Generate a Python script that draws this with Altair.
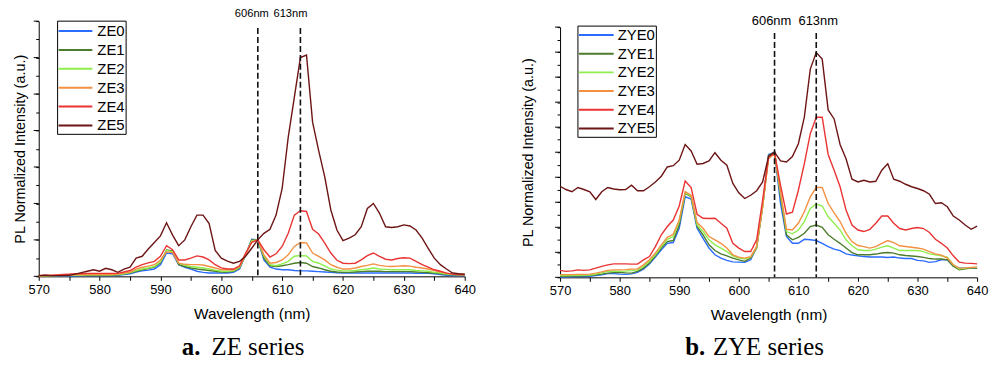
import altair as alt
import pandas as pd

# Wavelength grid (nm), one sample per nanometre
WAVELENGTH = list(range(570, 641))

ZE_NAMES = ["ZE0", "ZE1", "ZE2", "ZE3", "ZE4", "ZE5"]
ZYE_NAMES = ["ZYE0", "ZYE1", "ZYE2", "ZYE3", "ZYE4", "ZYE5"]
SERIES_COLORS = ["#2b6cff", "#4c7d2c", "#8fee4e", "#f39042", "#ea3434", "#6d1515"]

# ZE series, normalized PL intensity (a.u.)
ZE0 = [0.0, 0.0, 0.01, 0.01, 0.01, 0.01, 0.01, 0.02, 0.02, 0.02, 0.02, 0.02, 0.02, 0.03,
       0.05, 0.07, 0.12, 0.15, 0.17, 0.2, 0.32, 0.64, 0.62, 0.32, 0.25, 0.2, 0.14, 0.11,
       0.09, 0.09, 0.09, 0.09, 0.11, 0.2, 0.59, 1.02, 1.0, 0.45, 0.25, 0.2, 0.18, 0.18,
       0.16, 0.15, 0.15, 0.14, 0.13, 0.12, 0.11, 0.1, 0.09, 0.09, 0.09, 0.09, 0.09, 0.09,
       0.09, 0.09, 0.09, 0.09, 0.09, 0.09, 0.08, 0.08, 0.08, 0.07, 0.05, 0.03, 0.02, 0.02, 0.02]
ZE1 = [0.01, 0.01, 0.01, 0.02, 0.02, 0.02, 0.02, 0.03, 0.03, 0.03, 0.03, 0.03, 0.03, 0.04,
       0.06, 0.09, 0.14, 0.18, 0.21, 0.25, 0.37, 0.72, 0.7, 0.32, 0.27, 0.23, 0.2, 0.18,
       0.16, 0.14, 0.12, 0.12, 0.14, 0.23, 0.59, 1.0, 1.0, 0.5, 0.29, 0.27, 0.29, 0.32,
       0.36, 0.38, 0.36, 0.27, 0.23, 0.18, 0.14, 0.12, 0.11, 0.11, 0.12, 0.13, 0.14, 0.14,
       0.14, 0.13, 0.13, 0.13, 0.13, 0.13, 0.12, 0.11, 0.1, 0.09, 0.07, 0.05, 0.04, 0.04, 0.04]
ZE2 = [0.01, 0.01, 0.02, 0.02, 0.02, 0.03, 0.03, 0.03, 0.04, 0.04, 0.04, 0.04, 0.04, 0.05,
       0.07, 0.1, 0.16, 0.2, 0.23, 0.27, 0.4, 0.71, 0.68, 0.36, 0.3, 0.27, 0.25, 0.23,
       0.2, 0.17, 0.14, 0.14, 0.15, 0.25, 0.59, 0.98, 1.0, 0.55, 0.32, 0.29, 0.34, 0.41,
       0.55, 0.57, 0.56, 0.41, 0.36, 0.29, 0.2, 0.17, 0.15, 0.15, 0.16, 0.18, 0.2, 0.23,
       0.2, 0.19, 0.18, 0.18, 0.18, 0.18, 0.16, 0.15, 0.14, 0.11, 0.09, 0.06, 0.05, 0.04, 0.04]
ZE3 = [0.01, 0.02, 0.02, 0.03, 0.03, 0.04, 0.04, 0.05, 0.05, 0.05, 0.05, 0.05, 0.05, 0.06,
       0.09, 0.12, 0.2, 0.25, 0.28, 0.32, 0.45, 0.67, 0.65, 0.36, 0.33, 0.32, 0.32, 0.31,
       0.27, 0.23, 0.18, 0.18, 0.18, 0.27, 0.59, 0.95, 1.0, 0.59, 0.36, 0.38, 0.45, 0.59,
       0.82, 0.93, 0.92, 0.64, 0.55, 0.45, 0.32, 0.25, 0.2, 0.2, 0.23, 0.27, 0.3, 0.34,
       0.3, 0.28, 0.27, 0.28, 0.29, 0.28, 0.25, 0.23, 0.2, 0.16, 0.12, 0.09, 0.06, 0.05, 0.05]
ZE4 = [0.02, 0.03, 0.03, 0.04, 0.05, 0.06, 0.07, 0.07, 0.08, 0.08, 0.08, 0.08, 0.08, 0.08,
       0.12, 0.16, 0.25, 0.32, 0.37, 0.41, 0.55, 0.84, 0.73, 0.45, 0.45, 0.5, 0.56, 0.53,
       0.45, 0.32, 0.23, 0.2, 0.2, 0.29, 0.64, 0.93, 1.0, 0.73, 0.53, 0.62, 0.82, 1.18,
       1.68, 1.8, 1.78, 1.29, 1.16, 0.91, 0.64, 0.44, 0.36, 0.35, 0.36, 0.45, 0.57, 0.64,
       0.55, 0.47, 0.45, 0.49, 0.51, 0.5, 0.41, 0.32, 0.25, 0.18, 0.14, 0.09, 0.06, 0.05, 0.05]
ZE5 = [0.02, 0.03, 0.02, 0.02, 0.02, 0.03, 0.06, 0.1, 0.14, 0.18, 0.14, 0.22, 0.18, 0.11,
       0.2, 0.25, 0.5, 0.55, 0.75, 0.93, 1.11, 1.47, 1.13, 0.84, 1.0, 1.36, 1.68, 1.68,
       1.45, 0.71, 0.5, 0.42, 0.36, 0.41, 0.55, 0.77, 1.0, 1.18, 1.29, 1.68, 2.41, 3.82,
       4.91, 6.0, 6.07, 4.23, 3.45, 2.73, 1.82, 1.27, 0.98, 1.05, 1.14, 1.36, 1.86, 2.0,
       1.73, 1.36, 1.34, 1.36, 1.41, 1.38, 1.27, 1.05, 0.77, 0.5, 0.32, 0.2, 0.09, 0.07, 0.06]

# ZYE series, normalized PL intensity (a.u.)
ZYE0 = [0.01, 0.02, 0.02, 0.03, 0.03, 0.04, 0.07, 0.1, 0.15, 0.15, 0.13, 0.12, 0.14, 0.2,
        0.33, 0.53, 0.81, 1.1, 1.36, 1.39, 1.96, 3.22, 3.13, 1.96, 1.56, 1.17, 0.9, 0.77,
        0.68, 0.62, 0.61, 0.6, 0.7, 1.23, 2.88, 4.91, 5.0, 2.95, 1.63, 1.36, 1.36, 1.52,
        1.5, 1.47, 1.36, 1.23, 1.13, 1.07, 0.94, 0.89, 0.86, 0.83, 0.81, 0.81, 0.81, 0.79,
        0.81, 0.77, 0.75, 0.75, 0.68, 0.66, 0.6, 0.63, 0.7, 0.7, 0.46, 0.37, 0.37, 0.37, 0.37]
ZYE1 = [0.04, 0.04, 0.05, 0.05, 0.06, 0.07, 0.1, 0.13, 0.17, 0.19, 0.2, 0.18, 0.17, 0.24,
        0.37, 0.57, 0.86, 1.17, 1.43, 1.47, 2.09, 3.35, 3.22, 2.03, 1.7, 1.3, 1.07, 0.94,
        0.86, 0.77, 0.7, 0.64, 0.77, 1.17, 2.82, 4.87, 5.0, 3.22, 1.7, 1.5, 1.6, 1.76,
        2.03, 2.09, 2.0, 1.7, 1.52, 1.36, 1.17, 0.99, 0.9, 0.9, 0.9, 0.93, 0.97, 0.99,
        0.97, 0.9, 0.87, 0.85, 0.83, 0.8, 0.75, 0.73, 0.73, 0.7, 0.44, 0.3, 0.34, 0.37, 0.37]
ZYE2 = [0.07, 0.07, 0.08, 0.08, 0.09, 0.09, 0.13, 0.18, 0.24, 0.25, 0.24, 0.25, 0.27, 0.3,
        0.44, 0.64, 0.9, 1.23, 1.52, 1.63, 2.23, 3.38, 3.24, 2.09, 1.83, 1.5, 1.3, 1.17,
        1.03, 0.86, 0.77, 0.73, 0.81, 1.21, 2.82, 4.81, 4.97, 3.35, 1.83, 1.74, 1.89, 2.23,
        2.75, 2.93, 2.85, 2.42, 2.16, 1.89, 1.5, 1.26, 1.1, 1.07, 1.07, 1.13, 1.21, 1.26,
        1.17, 1.07, 1.07, 1.07, 1.07, 1.03, 0.94, 0.9, 0.86, 0.81, 0.5, 0.33, 0.37, 0.39, 0.4]
ZYE3 = [0.11, 0.11, 0.11, 0.12, 0.12, 0.13, 0.17, 0.22, 0.28, 0.3, 0.3, 0.31, 0.33, 0.34,
        0.5, 0.7, 0.97, 1.3, 1.6, 1.72, 2.29, 3.43, 3.28, 2.19, 1.96, 1.63, 1.5, 1.36,
        1.17, 0.9, 0.81, 0.77, 0.83, 1.23, 2.82, 4.74, 4.94, 3.42, 1.92, 1.89, 2.16, 2.62,
        3.22, 3.59, 3.59, 2.95, 2.58, 2.23, 1.76, 1.43, 1.27, 1.23, 1.17, 1.23, 1.36, 1.47,
        1.39, 1.26, 1.23, 1.2, 1.17, 1.13, 1.03, 0.94, 0.89, 0.77, 0.5, 0.37, 0.38, 0.4, 0.41]
ZYE4 = [0.28, 0.24, 0.26, 0.3, 0.28, 0.3, 0.37, 0.44, 0.5, 0.54, 0.54, 0.54, 0.53, 0.53,
        0.7, 0.83, 1.23, 1.7, 2.03, 2.29, 2.85, 3.85, 3.59, 2.52, 2.36, 2.35, 2.36, 2.16,
        1.96, 1.36, 1.17, 1.03, 1.03, 1.5, 3.09, 4.81, 4.97, 3.68, 2.53, 2.6, 3.48, 4.54,
        5.74, 6.4, 6.4, 4.91, 4.28, 3.62, 2.69, 2.09, 1.89, 1.83, 1.92, 2.16, 2.45, 2.45,
        2.16, 1.95, 1.89, 1.95, 1.99, 1.95, 1.79, 1.52, 1.36, 1.17, 0.86, 0.61, 0.57, 0.56, 0.54]
ZYE5 = [3.64, 3.51, 3.42, 3.59, 3.51, 3.42, 3.11, 3.42, 3.59, 3.53, 3.5, 3.51, 3.68, 3.46,
        3.46, 3.62, 3.81, 4.04, 4.41, 4.46, 4.68, 5.31, 5.05, 4.52, 4.55, 4.65, 4.98, 4.68,
        4.48, 3.75, 3.38, 3.15, 3.28, 3.46, 3.81, 4.83, 5.0, 4.65, 4.61, 4.83, 5.34, 6.4,
        8.32, 8.98, 8.72, 6.69, 6.33, 5.31, 4.74, 3.92, 3.81, 3.88, 3.81, 3.84, 4.28, 4.54,
        3.92, 3.84, 3.72, 3.62, 3.55, 3.46, 3.32, 2.95, 2.98, 2.82, 2.45, 2.29, 2.09, 1.92, 2.05]

MARKER_LINES = [606, 613]
MARKER_LABELS = ["606nm", "613nm"]
X_TICKS = list(range(570, 645, 5))

SANS = "Liberation Sans"
SERIF = "Liberation Serif"


def long_frame(names, series):
    rows = []
    for name, vals in zip(names, series):
        assert len(vals) == len(WAVELENGTH)
        for w, v in zip(WAVELENGTH, vals):
            rows.append({"wl": w, "val": v, "series": name})
    return pd.DataFrame(rows)


def panel(names, series, ymax, width, height, top, title_pad, label_y, label_dx, label_size,
          dash_top, legend, caption_bold, caption_text, caption_x, caption_y):
    df = long_frame(names, series)
    xscale = alt.Scale(domain=[570, 640], nice=False, zero=False)
    yscale = alt.Scale(domain=[0, ymax], range=[height, top], nice=False)
    color = alt.Color("series:N", scale=alt.Scale(domain=names, range=SERIES_COLORS),
                      legend=None)

    x_axis = alt.Axis(values=X_TICKS, labelExpr="datum.value % 10 == 0 ? datum.label : ''",
                      tickSize=4, labelFontSize=13, labelPadding=3, title="Wavelength (nm)",
                      titleFontSize=15.5, titleFontWeight="normal", titlePadding=10,
                      grid=False, labelFlush=False)
    y_axis = alt.Axis(values=[i / 2 for i in range(0, 2 * ymax + 1)], labels=False,
                      tickSize=3, title="PL Normalized Intensity (a.u.)",
                      titleFontSize=14.5, titleFontWeight="normal", titlePadding=title_pad,
                      grid=False)
    X = alt.X("wl:Q", scale=xscale, axis=x_axis)
    Y = alt.Y("val:Q", scale=yscale, axis=y_axis)

    lines = alt.Chart(df).mark_line(strokeWidth=1.4).encode(
        x=X, y=Y, color=color, detail="series:N",
    )

    # longer major ticks on the intensity axis
    majors = alt.Chart(pd.DataFrame({"val": list(range(0, ymax + 1))})).mark_rule(
        color="black", strokeWidth=1
    ).encode(y=Y, x=alt.value(-5), x2=alt.value(0))

    marks_df = pd.DataFrame({"wl": MARKER_LINES, "label": MARKER_LABELS})
    dashes = alt.Chart(marks_df).mark_rule(
        color="#111111", strokeWidth=1.6, strokeDash=[6, 3]
    ).encode(x=X, y=alt.value(dash_top), y2=alt.value(height))
    mark_text = [
        alt.Chart(marks_df.iloc[[i]]).mark_text(
            font=SANS, fontSize=label_size, baseline="middle", align="center",
            dx=label_dx[i], color="black"
        ).encode(x=X, y=alt.value(label_y), text="label:N")
        for i in range(2)
    ]

    # legend box with line samples
    lx0, lx1, ly0, ly1, sx0, sx1, tx, ry0, rdy = legend
    box = alt.Chart(pd.DataFrame({"b": [0]})).mark_rect(
        fill="white", stroke="black", strokeWidth=1
    ).encode(x=alt.value(lx0), x2=alt.value(lx1), y=alt.value(ly0), y2=alt.value(ly1))
    leg_df = pd.DataFrame({"series": names, "row": list(range(len(names)))})
    leg_base = alt.Chart(leg_df).transform_calculate(ly=f"{ry0} + datum.row * {rdy}")
    leg_lines = leg_base.mark_rule(strokeWidth=2).encode(
        x=alt.value(sx0), x2=alt.value(sx1), y=alt.Y("ly:Q", scale=None), color=color
    )
    leg_text = leg_base.mark_text(
        font=SANS, fontSize=15, align="left", baseline="middle", color="black"
    ).encode(x=alt.value(tx), y=alt.Y("ly:Q", scale=None), text="series:N")

    cap_df = pd.DataFrame({"b": [caption_bold], "t": [caption_text]})
    cap_bold = alt.Chart(cap_df).mark_text(
        font=SERIF, fontSize=25, fontWeight="bold", align="left", baseline="alphabetic",
        color="black"
    ).encode(x=alt.value(caption_x[0]), y=alt.value(caption_y), text="b:N")
    cap_norm = alt.Chart(cap_df).mark_text(
        font=SERIF, fontSize=25, align="left", baseline="alphabetic", color="black"
    ).encode(x=alt.value(caption_x[1]), y=alt.value(caption_y), text="t:N")

    return alt.layer(
        lines, majors, dashes, *mark_text, box, leg_lines, leg_text, cap_bold, cap_norm
    ).properties(width=width, height=height)


left = panel(
    ZE_NAMES, [ZE0, ZE1, ZE2, ZE3, ZE4, ZE5], 7, 429, 257, 0, 8, -7, [-6, -10], 11.2, 7,
    (19, 88, 0, 114, 20, 54, 59, 10, 19), "a.", "ZE series", (144, 174), 336,
)
right = panel(
    ZYE_NAMES, [ZYE0, ZYE1, ZYE2, ZYE3, ZYE4, ZYE5], 10, 420, 258, 6, 21, -0.5, [-3, 2], 13,
    12, (18, 97, 5, 117, 19, 54, 58, 14, 18.8), "b.", "ZYE series", (126, 154), 336,
)

chart = alt.hconcat(left, right, spacing=45).configure_view(stroke=None).configure_axis(
    labelFont=SANS, titleFont=SANS, labelColor="black", titleColor="black",
    domainColor="black", tickColor="black", domainWidth=1, tickWidth=1,
).properties(
    background="white",
    padding={"left": 12, "top": 7, "right": 5, "bottom": 5},
)

chart.save("out.html", embed_options={"renderer": "svg", "actions": False})
